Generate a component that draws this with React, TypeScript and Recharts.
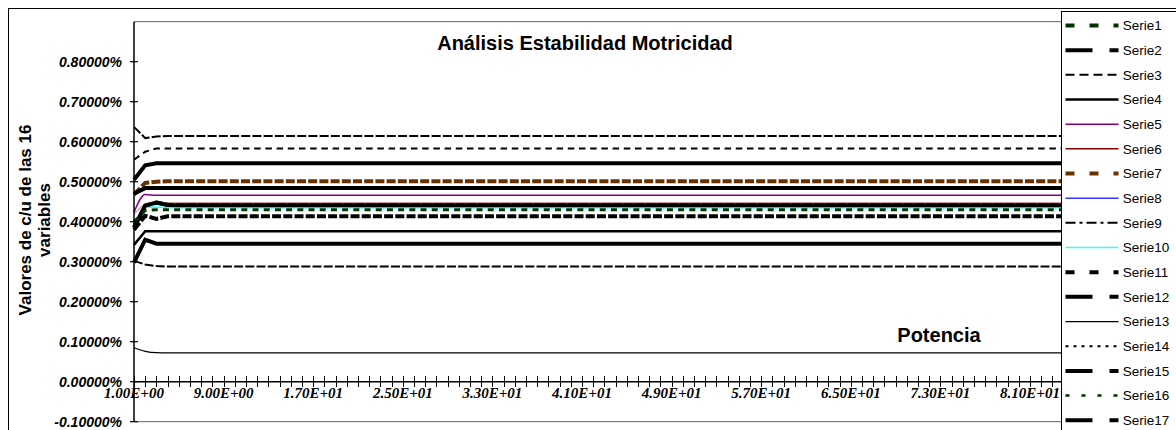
import { Line, LineChart, ReferenceLine, XAxis, YAxis } from 'recharts'

// category positions where values were read (the lines are flat afterwards)
const X_POINTS = [1, 2, 3, 4, 5, 94]

const SERIE1 = [0.385, 0.44, 0.448, 0.442, 0.441, 0.441]
const SERIE2 = [0.505, 0.541, 0.546, 0.546, 0.546, 0.546]
const SERIE3 = [0.637, 0.609, 0.613, 0.614, 0.614, 0.614]
const SERIE4 = [0.342, 0.376, 0.376, 0.376, 0.376, 0.376]
const SERIE5 = [0.424, 0.468, 0.466, 0.466, 0.466, 0.466]
const SERIE6 = [0.42, 0.445, 0.4475, 0.4475, 0.4475, 0.4475]
const SERIE7 = [0.468, 0.497, 0.5, 0.501, 0.501, 0.501]
const SERIE8 = [0.3, 0.352, 0.345, 0.345, 0.345, 0.345]
const SERIE9 = [0.555, 0.575, 0.583, 0.583, 0.583, 0.583]
const SERIE10 = [0.4, 0.436, 0.437, 0.435, 0.435, 0.435]
const SERIE11 = [0.38, 0.415, 0.407, 0.4136, 0.4136, 0.4136]
const SERIE12 = [0.47, 0.484, 0.484, 0.484, 0.484, 0.484]
const SERIE13 = [0.085, 0.076, 0.0725, 0.072, 0.072, 0.072]
const SERIE14 = [0.302, 0.293, 0.289, 0.288, 0.288, 0.288]
const SERIE15 = [0.385, 0.44, 0.448, 0.442, 0.441, 0.441]
const SERIE16 = [0.4, 0.428, 0.43, 0.43, 0.43, 0.43]
const SERIE17 = [0.298, 0.355, 0.345, 0.345, 0.345, 0.345]

const SERIES_NAMES = [
  'Serie1', 'Serie2', 'Serie3', 'Serie4', 'Serie5', 'Serie6', 'Serie7', 'Serie8', 'Serie9',
  'Serie10', 'Serie11', 'Serie12', 'Serie13', 'Serie14', 'Serie15', 'Serie16', 'Serie17',
]
const SERIES_VALUES = [
  SERIE1, SERIE2, SERIE3, SERIE4, SERIE5, SERIE6, SERIE7, SERIE8, SERIE9,
  SERIE10, SERIE11, SERIE12, SERIE13, SERIE14, SERIE15, SERIE16, SERIE17,
]

const X_LABEL_AT = [1, 9, 17, 25, 33, 41, 49, 57, 65, 73, 81, 89]
const X_LABELS = [
  '1.00E+00', '9.00E+00', '1.70E+01', '2.50E+01', '3.30E+01', '4.10E+01',
  '4.90E+01', '5.70E+01', '6.50E+01', '7.30E+01', '8.10E+01', '8.90E+01',
]
const Y_TICKS = [-0.1, 0, 0.1, 0.2, 0.3, 0.4, 0.5, 0.6, 0.7, 0.8]

const X_MIN = 1
const X_MAX = 94
const Y_MIN = -0.1
const Y_MAX = 0.9
const X_TICKS = Array.from({ length: X_MAX - X_MIN + 1 }, (_, i) => X_MIN + i)

const W = 1176
const H = 430
const MARGIN = { top: 21.7, right: 0.4, bottom: 0, left: 74 }
const X_AXIS_H = 8.3
const PLOT_H = H - MARGIN.top - MARGIN.bottom - X_AXIS_H
const ZERO_SHIFT = (PLOT_H * (0 - Y_MIN)) / (Y_MAX - Y_MIN)

const ARIAL = '"Liberation Sans", Arial, sans-serif'
const TIMES = '"Liberation Serif", "Times New Roman", serif'

type Style = {
  color: string
  width: number
  dash?: string
  legendDash?: string
  legendWidth?: number
  opacity?: number
  curve?: 'linear' | 'monotone'
}

const STYLES: Style[] = [
  { color: '#003300', width: 4, dash: '9 2.2', legendDash: '9 15' },
  { color: '#000000', width: 4, legendDash: '27 17' },
  { color: '#000000', width: 2, dash: '9 2.2', legendDash: '9 5' },
  { color: '#000000', width: 2.5 },
  { color: '#800080', width: 1.5, curve: 'monotone' },
  { color: '#800000', width: 1.2, opacity: 0.4, legendWidth: 1.5 },
  { color: '#663300', width: 4, dash: '9 2.2', legendDash: '9 15' },
  { color: '#3333ff', width: 1.5 },
  { color: '#000000', width: 2, dash: '6.5 4.7', legendDash: '10 4 3 4' },
  { color: '#33ffff', width: 1.5 },
  { color: '#000000', width: 4, dash: '9 2.2', legendDash: '9 15' },
  { color: '#000000', width: 4, legendDash: '27 17' },
  { color: '#000000', width: 1.2, curve: 'monotone' },
  { color: '#000000', width: 2, dash: '9 2.2', legendDash: '3 5' },
  { color: '#000000', width: 4, legendDash: '27 17' },
  { color: '#003300', width: 3, dash: '6 5.2', legendDash: '4 12', legendWidth: 2.5 },
  { color: '#000000', width: 4, legendDash: '27 17' },
]

const data = X_POINTS.map((x, i) => {
  const row: Record<string, number> = { x }
  SERIES_NAMES.forEach((name, k) => {
    row[name] = SERIES_VALUES[k][i]
  })
  return row
})

// every category gets a cross mark on the zero line, every 8th a label
function XTick(props: any) {
  const { x, y, payload } = props
  const zy = y - ZERO_SHIFT
  const idx = X_LABEL_AT.indexOf(payload.value)
  const px = Math.round(x) + 0.5
  return (
    <g>
      <path
        d={`M${px},${zy - 5.5}L${px},${zy + 5.5}`}
        stroke="#000"
        strokeWidth={1}
        fill="none"
        shapeRendering="crispEdges"
      />
      {idx >= 0 && (
        <text
          x={x}
          y={zy + 16.5}
          textAnchor="middle"
          fontFamily={TIMES}
          fontSize={15}
          fontWeight="bold"
          fontStyle="italic"
          fill="#000"
        >
          {X_LABELS[idx]}
        </text>
      )}
    </g>
  )
}

function YTick(props: any) {
  const { x, y, payload } = props
  return (
    <g>
      <line x1={x - 4} x2={x + 4} y1={y} y2={y} stroke="#000" strokeWidth={1.2} />
      <text
        x={x - 12}
        y={y}
        dy="0.36em"
        textAnchor="end"
        fontFamily={ARIAL}
        fontSize={14}
        fontWeight="bold"
        fontStyle="italic"
        fill="#000"
      >
        {payload.value.toFixed(5)}%
      </text>
    </g>
  )
}

function LegendBox() {
  const rowH = 24.67
  return (
    <div
      style={{
        position: 'absolute',
        left: 1061,
        top: 11,
        width: 200,
        height: 500,
        background: '#fff',
        border: '1.5px solid #000',
      }}
    >
      <svg width={130} height={440} style={{ display: 'block' }}>
        {SERIES_NAMES.map((name, i) => {
          const s = STYLES[i]
          const cy = 13.5 + i * rowH
          return (
            <g key={name}>
              <line
                x1={3.5}
                x2={56.5}
                y1={cy}
                y2={cy}
                stroke={s.color}
                strokeWidth={s.legendWidth ?? s.width}
                strokeDasharray={s.legendDash}
              />
              <text x={60.8} y={cy} dy="0.36em" fontFamily={ARIAL} fontSize={13.5} fill="#000">
                {name}
              </text>
            </g>
          )
        })}
      </svg>
    </div>
  )
}

export default function App() {
  return (
    <div
      style={{
        position: 'fixed',
        left: 0,
        top: 0,
        width: W,
        height: H,
        overflow: 'hidden',
        background: '#fff',
      }}
    >
      <div
        style={{
          position: 'absolute',
          left: 8,
          top: 8,
          width: 1400,
          height: 700,
          border: '1.5px solid #000',
        }}
      />
      <div style={{ position: 'absolute', left: 0, top: 0 }}>
        <LineChart width={W} height={H} data={data} margin={MARGIN}>
          <ReferenceLine y={Y_MAX} stroke="#808080" strokeWidth={1.2} />
          <ReferenceLine y={Y_MIN} stroke="#808080" strokeWidth={1.2} />
          <ReferenceLine y={0} stroke="#000" strokeWidth={1.5} />
          <XAxis
            dataKey="x"
            type="number"
            domain={[X_MIN, X_MAX]}
            ticks={X_TICKS}
            interval={0}
            minTickGap={0}
            height={X_AXIS_H}
            axisLine={false}
            tickLine={false}
            tickSize={0}
            tickMargin={0}
            tick={<XTick />}
          />
          <YAxis
            type="number"
            domain={[Y_MIN, Y_MAX]}
            ticks={Y_TICKS}
            interval={0}
            width={60}
            axisLine={{ stroke: '#000', strokeWidth: 1.5 }}
            tickLine={false}
            tickSize={0}
            tickMargin={0}
            tick={<YTick />}
          />
          {SERIES_NAMES.map((name, i) => {
            const s = STYLES[i]
            return (
              <Line
                key={name}
                dataKey={name}
                type={s.curve ?? 'linear'}
                stroke={s.color}
                strokeWidth={s.width}
                strokeDasharray={s.dash}
                strokeOpacity={s.opacity ?? 1}
                dot={false}
                activeDot={false}
                isAnimationActive={false}
              />
            )
          })}
        </LineChart>
      </div>
      <svg
        width={W}
        height={H}
        style={{ position: 'absolute', left: 0, top: 0, pointerEvents: 'none' }}
      >
        <text x={585} y={50} textAnchor="middle" fontFamily={ARIAL} fontSize={20} fontWeight="bold">
          Análisis Estabilidad Motricidad
        </text>
        <text x={939} y={342} textAnchor="middle" fontFamily={ARIAL} fontSize={20} fontWeight="bold">
          Potencia
        </text>
        <text
          x={30.5}
          y={220}
          transform="rotate(-90, 30.5, 220)"
          textAnchor="middle"
          fontFamily={ARIAL}
          fontSize={17}
          fontWeight="bold"
        >
          Valores de c/u de las 16
        </text>
        <text
          x={50}
          y={220}
          transform="rotate(-90, 50, 220)"
          textAnchor="middle"
          fontFamily={ARIAL}
          fontSize={17}
          fontWeight="bold"
        >
          variables
        </text>
      </svg>
      <LegendBox />
    </div>
  )
}
